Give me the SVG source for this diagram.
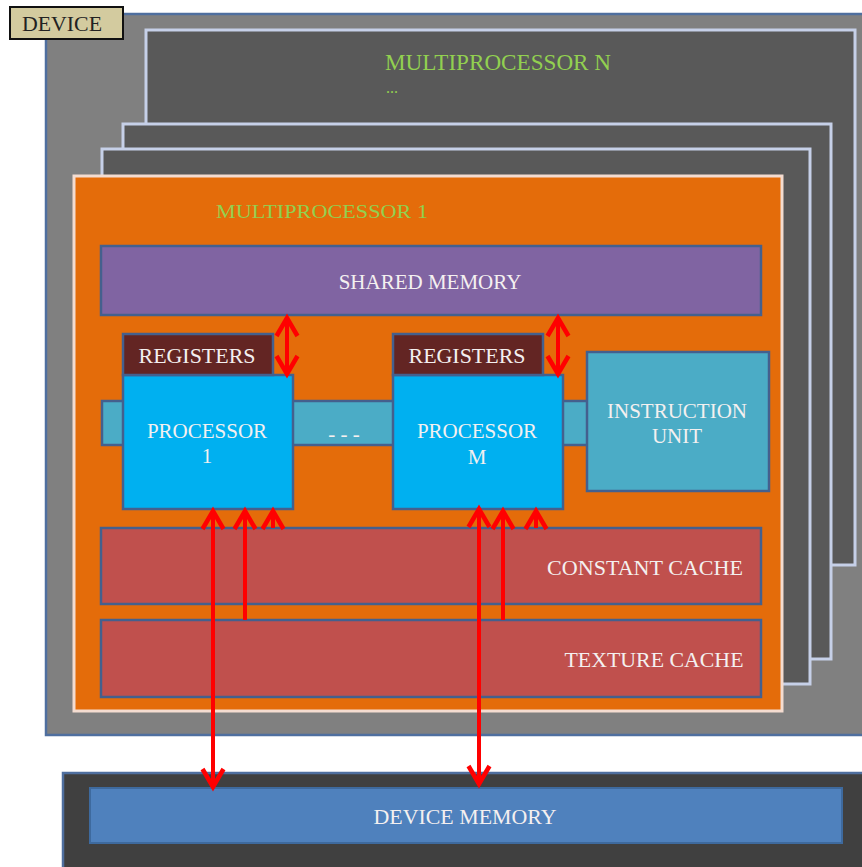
<svg xmlns="http://www.w3.org/2000/svg" width="862" height="867" viewBox="0 0 862 867">
  <defs>
    <style>
      text { font-family: "Liberation Serif", "Times New Roman", serif; }
      .lbl { fill: #f4f0f0; font-size: 21px; text-anchor: middle; }
      .mp-title { fill: #92d050; }
      .frame { fill: #595959; stroke: #c6d0e8; stroke-width: 3; }
      .edge { stroke: #44608e; stroke-width: 2.5; }
      .wire { stroke: #ff0000; stroke-width: 4; fill: none; }
    </style>
    <marker id="chev" viewBox="-4 -14 26 28" refX="18" refY="0" markerWidth="26" markerHeight="28"
            markerUnits="userSpaceOnUse" orient="auto-start-reverse" overflow="visible">
      <path d="M0,-10.5 L18,0 L0,10.5" fill="none" stroke="#ff0000" stroke-width="4.5"/>
    </marker>
  </defs>

  <rect width="862" height="867" fill="#ffffff"/>

  <!-- device enclosure -->
  <g id="device">
    <rect x="46" y="14" width="822" height="721" fill="#808080" stroke="#4f6f9f" stroke-width="2.5"/>
  </g>

  <!-- stacked multiprocessors behind the first one -->
  <g id="multiprocessor-n">
    <rect class="frame" x="146" y="30" width="709" height="535"/>
    <text class="mp-title" x="385" y="70" font-size="23" textLength="226" lengthAdjust="spacingAndGlyphs">MULTIPROCESSOR  N</text>
    <text class="mp-title" x="386" y="93" font-size="16">...</text>
  </g>
  <g id="multiprocessor-3">
    <rect class="frame" x="123" y="124" width="708" height="535"/>
  </g>
  <g id="multiprocessor-2">
    <rect class="frame" x="102" y="149" width="708" height="535"/>
  </g>

  <!-- multiprocessor 1 -->
  <g id="multiprocessor-1">
    <rect x="74" y="176" width="708" height="535" fill="#e46c0a" stroke="#f4dcd0" stroke-width="3"/>
    <text class="mp-title" x="216" y="218" font-size="19" textLength="212" lengthAdjust="spacingAndGlyphs">MULTIPROCESSOR 1</text>
  </g>

  <g id="shared-memory">
    <rect class="edge" x="101" y="246" width="660" height="69" fill="#8064a2"/>
    <text class="lbl" x="430" y="289" font-size="22">SHARED MEMORY</text>
  </g>

  <!-- instruction bus linking processors to the instruction unit -->
  <g id="instruction-bus">
    <rect class="edge" x="102" y="401" width="490" height="44" fill="#4bacc6"/>
    <text class="lbl" x="344" y="441" font-size="18">- - -</text>
  </g>

  <g id="processor-1">
    <rect class="edge" x="123" y="375" width="170" height="134" fill="#00b0f0"/>
    <text class="lbl" x="207" y="438">PROCESSOR</text>
    <text class="lbl" x="207" y="463">1</text>
  </g>
  <g id="registers-1">
    <rect class="edge" x="123" y="334" width="150" height="41" fill="#632523"/>
    <text class="lbl" x="197" y="363" font-size="21" textLength="117" lengthAdjust="spacingAndGlyphs">REGISTERS</text>
  </g>

  <g id="processor-m">
    <rect class="edge" x="393" y="375" width="170" height="134" fill="#00b0f0"/>
    <text class="lbl" x="477" y="438">PROCESSOR</text>
    <text class="lbl" x="477" y="464">M</text>
  </g>
  <g id="registers-m">
    <rect class="edge" x="393" y="334" width="150" height="41" fill="#632523"/>
    <text class="lbl" x="467" y="363" font-size="21" textLength="117" lengthAdjust="spacingAndGlyphs">REGISTERS</text>
  </g>

  <g id="instruction-unit">
    <rect class="edge" x="587" y="352" width="182" height="139" fill="#4bacc6"/>
    <text class="lbl" x="677" y="418">INSTRUCTION</text>
    <text class="lbl" x="677" y="443">UNIT</text>
  </g>

  <g id="constant-cache">
    <rect class="edge" x="101" y="528" width="660" height="76" fill="#c0504d"/>
    <text class="lbl" x="645" y="575" textLength="196" lengthAdjust="spacingAndGlyphs">CONSTANT CACHE</text>
  </g>
  <g id="texture-cache">
    <rect class="edge" x="101" y="620" width="660" height="77" fill="#c0504d"/>
    <text class="lbl" x="654" y="667" textLength="179" lengthAdjust="spacingAndGlyphs">TEXTURE CACHE</text>
  </g>

  <!-- off-chip memory -->
  <g id="device-memory">
    <rect x="63" y="773" width="805" height="100" fill="#404040" stroke="#4f6f9f" stroke-width="2.5"/>
    <rect x="90" y="788" width="752" height="55" fill="#4f81bd" stroke="#3e6a9e" stroke-width="2"/>
    <text class="lbl" x="465" y="824" textLength="183" lengthAdjust="spacingAndGlyphs">DEVICE MEMORY</text>
  </g>

  <!-- data paths -->
  <g id="connectors">
    <line class="wire" x1="287" y1="318" x2="287" y2="374" marker-start="url(#chev)" marker-end="url(#chev)"/>
    <line class="wire" x1="558" y1="318" x2="558" y2="374" marker-start="url(#chev)" marker-end="url(#chev)"/>
    <line class="wire" x1="213" y1="511" x2="213" y2="787" marker-start="url(#chev)" marker-end="url(#chev)"/>
    <line class="wire" x1="245" y1="620" x2="245" y2="511" marker-end="url(#chev)"/>
    <line class="wire" x1="273" y1="528" x2="273" y2="511" marker-end="url(#chev)"/>
    <line class="wire" x1="479" y1="509" x2="479" y2="784" marker-start="url(#chev)" marker-end="url(#chev)"/>
    <line class="wire" x1="503" y1="620" x2="503" y2="511" marker-end="url(#chev)"/>
    <line class="wire" x1="536" y1="528" x2="536" y2="511" marker-end="url(#chev)"/>
  </g>

  <g id="device-label">
    <rect x="10" y="7" width="113" height="32" fill="#d3cb9f" stroke="#111111" stroke-width="2"/>
    <text x="62" y="31" font-size="21" fill="#222222" text-anchor="middle" textLength="80" lengthAdjust="spacingAndGlyphs">DEVICE</text>
  </g>
</svg>
